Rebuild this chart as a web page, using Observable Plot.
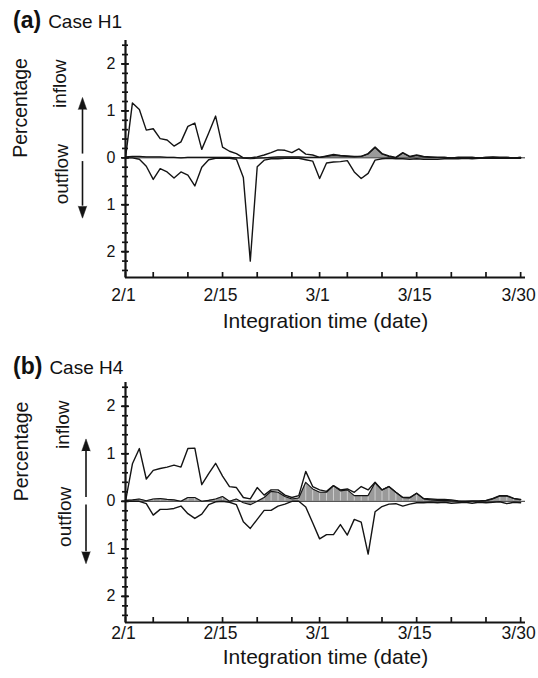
<!DOCTYPE html>
<html>
<head>
<meta charset="utf-8">
<script src="https://cdn.jsdelivr.net/npm/d3@7"></script>
<script src="https://cdn.jsdelivr.net/npm/@observablehq/plot@0.6"></script>
<style>
  body { margin: 0; background: #fff; font-family: "Liberation Sans", Arial, Helvetica, sans-serif; }
  #fig { position: relative; width: 538px; height: 678px; overflow: hidden; background: #fff; }
  .panel { position: absolute; left: 0; }
  .head { position: absolute; left: 13px; white-space: nowrap; color: #111; font-size: 23px; line-height: 23px; }
  .head b { font-size: 23px; margin-right: 7px; }
  .head span { font-size: 19px; }
</style>
</head>
<body>
<div id="fig"></div>
<script>
// Day offsets from 2/1 (daily values, 2/1 .. 3/30)
const days = [0,1,2,3,4,5,6,7,8,9,10,11,12,13,14,15,16,17,18,19,20,21,22,23,24,25,26,27,28,
  29,30,31,32,33,34,35,36,37,38,39,40,41,42,43,44,45,46,47,48,49,50,51,52,53,54,55,56,57];

// Axis ticks and labels
const xTickDays = [0, 4, 9, 14, 19, 24, 28, 32, 37, 42, 47, 52, 57];
const xLabelDays = [0, 14, 28, 42, 57];
const xLabels = ["2/1", "2/15", "3/1", "3/15", "3/30"];
const yMajor = [-2, -1, 0, 1, 2];
const yLabels = ["2", "1", "0", "1", "2"];
const yMinor = [-2.4,-2.2,-2,-1.8,-1.6,-1.4,-1.2,-1,-0.8,-0.6,-0.4,-0.2,0,
  0.2,0.4,0.6,0.8,1,1.2,1.4,1.6,1.8,2,2.2,2.4];

// Case H1 (percentage)
const inflowH1 = [0,1.17,1.03,0.59,0.62,0.41,0.38,0.25,0.34,0.67,0.74,0.18,0.53,0.89,0.23,0.14,0.09,0.0,0.0,0.02,
  0.06,0.11,0.17,0.16,0.11,0.19,0.08,0.06,0.01,0.04,0.07,0.05,0.04,0.03,0.03,0.09,0.23,0.09,0.04,0.01,
  0.11,0.03,0.06,0.03,0.02,0.01,0.01,0.0,0.01,0.01,0.01,0.0,0.01,0.02,0.01,0.01,0.0,0.01];
const outflowH1 = [0,0.0,0.03,0.18,0.46,0.23,0.30,0.43,0.30,0.37,0.60,0.20,0.04,0.01,0.01,0.01,0.03,0.42,2.2,0.19,
  0.05,0.02,0.02,0.01,0.01,0.01,0.04,0.07,0.44,0.11,0.09,0.08,0.06,0.30,0.44,0.33,0.05,0.02,0.01,0.02,
  0.02,0.03,0.02,0.03,0.03,0.03,0.02,0.02,0.02,0.01,0.02,0.01,0.01,0.01,0.01,0.01,0.01,0.01];
const shadedH1 = [0.02,0.03,0.03,0.02,0.02,0.02,0.01,0.01,0.0,0.01,0.01,0.01,0.01,0.01,0.01,0.01,0.0,-0.01,-0.02,-0.01,
  0.0,0.01,0.02,0.02,0.02,0.02,0.01,0.01,0.01,0.03,0.05,0.04,0.03,0.02,0.03,0.08,0.22,0.08,0.03,0.0,
  0.10,0.02,0.05,0.02,0.01,0.01,0.01,0.0,0.01,0.01,0.01,0.0,0.01,0.01,0.01,0.01,0.0,0.01];

// Case H4 (percentage)
const inflowH4 = [0,0.79,1.11,0.47,0.65,0.69,0.72,0.76,0.72,1.11,1.12,0.35,0.58,0.80,0.53,0.31,0.29,0.08,0.05,0.29,
  0.13,0.24,0.24,0.13,0.08,0.12,0.63,0.31,0.24,0.21,0.33,0.24,0.26,0.19,0.31,0.24,0.40,0.24,0.31,0.19,
  0.08,0.08,0.17,0.06,0.05,0.04,0.04,0.03,0.01,0.0,0.01,0.01,0.02,0.06,0.12,0.12,0.06,0.04];
const outflowH4 = [0,0.0,0.0,0.05,0.29,0.17,0.17,0.15,0.10,0.26,0.36,0.27,0.07,0.01,0.0,0.02,0.07,0.43,0.57,0.38,
  0.19,0.19,0.10,0.06,0.0,0.0,0.12,0.45,0.79,0.70,0.70,0.49,0.71,0.38,0.44,1.11,0.22,0.11,0.06,0.05,
  0.10,0.06,0.03,0.03,0.02,0.03,0.02,0.04,0.03,0.02,0.04,0.02,0.03,0.02,0.01,0.05,0.02,0.03];
const shadedH4 = [0.02,0.03,0.05,0.01,0.05,0.06,0.04,0.03,0.0,0.08,0.08,0.0,0.02,0.05,0.10,0.0,0.05,-0.03,-0.07,0.0,
  0.08,0.21,0.19,0.10,0.05,0.07,0.40,0.26,0.19,0.19,0.33,0.22,0.24,0.12,0.12,0.12,0.39,0.24,0.31,0.19,
  0.08,0.07,0.17,0.05,0.03,0.02,0.02,0.01,0.0,-0.01,0.0,0.0,0.01,0.05,0.11,0.11,0.06,0.03];

const ink = "#141414";
const font = '"Liberation Sans", Arial, Helvetica, sans-serif';

function panel(cfg) {
  const rows = days.map((d, i) => ({
    day: d,
    inflow: cfg.inflow[i],
    outflow: -cfg.outflow[i],
    shaded: cfg.shaded[i]
  }));
  const plotH = cfg.plotH;
  const marks = [
    // shaded component
    Plot.areaY(rows, {x: "day", y: "shaded", fill: "#9a9a9a", curve: "linear"}),
  ];
  if (cfg.hatch) {
    marks.push(Plot.ruleX(rows.filter(r => r.shaded > 0.02), {
      x: "day", y1: 0, y2: "shaded", stroke: "#ffffff", strokeWidth: 0.7, strokeOpacity: 0.75
    }));
  }
  marks.push(
    Plot.ruleY([0], {stroke: ink, strokeWidth: 0.9}),
    Plot.line(rows, {x: "day", y: "shaded", stroke: ink, strokeWidth: 1.1}),
    Plot.line(rows, {x: "day", y: "inflow", stroke: ink, strokeWidth: 1.4}),
    Plot.line(rows, {x: "day", y: "outflow", stroke: ink, strokeWidth: 1.4}),

    // axis lines
    Plot.ruleX([0], {x: d => d, stroke: ink, strokeWidth: 2.2}),
    Plot.ruleY([-2.55], {y: d => d, stroke: ink, strokeWidth: 2.2}),

    // tick marks crossing the axes
    Plot.axisY({ticks: yMinor, tickSize: 6, dx: 3, tickFormat: () => "", label: null, stroke: ink, strokeWidth: 1.7}),
    Plot.axisY({ticks: yMajor, tickSize: 8, dx: 4, tickFormat: () => "", label: null, stroke: ink, strokeWidth: 1.7}),
    Plot.axisX({ticks: xTickDays, tickSize: 6, dy: -5, tickFormat: () => "", label: null, stroke: ink, strokeWidth: 1.7}),

    // tick labels
    Plot.text(yMajor, {y: d => d, text: (d, i) => yLabels[i], frameAnchor: "left", dx: -10,
      textAnchor: "end", fontSize: 16, fill: ink}),
    Plot.text(xLabelDays, {x: d => d, text: (d, i) => xLabels[i], frameAnchor: "bottom", dy: cfg.tickDy,
      dx: -2, fontSize: 17.5, fill: ink}),

    // axis titles
    Plot.text(["Integration time (date)"], {frameAnchor: "bottom", dy: cfg.titleDy, fontSize: 21, fill: ink}),
    Plot.text(["Percentage"], {y: () => 0, frameAnchor: "left", dx: cfg.pctDx, rotate: -90, fontSize: 19.5, fill: ink}),
    Plot.text(["inflow"], {y: () => cfg.inY, frameAnchor: "left", dx: cfg.inDx, rotate: -90, fontSize: 19, fill: ink}),
    Plot.text(["outflow"], {y: () => cfg.outY, frameAnchor: "left", dx: cfg.outDx, rotate: -90, fontSize: 19, fill: ink}),

    // direction arrows
    Plot.ruleX([0], {x: d => d, y1: 0.08, y2: cfg.headBase, dx: cfg.arrowDx, stroke: ink, strokeWidth: 1.6}),
    Plot.ruleX([0], {x: d => d, y1: -0.08, y2: -cfg.headBase, dx: cfg.arrowDx, stroke: ink, strokeWidth: 1.6}),
    Plot.vector([0], {x: d => d, y: () => cfg.headBase, dx: cfg.arrowDx, shape: "spike", anchor: "start",
      length: 12, r: 4.2, rotate: 0, fill: ink, stroke: ink, strokeWidth: 0.5}),
    Plot.vector([0], {x: d => d, y: () => -cfg.headBase, dx: cfg.arrowDx, shape: "spike", anchor: "start",
      length: 12, r: 4.2, rotate: 180, fill: ink, stroke: ink, strokeWidth: 0.5})
  );

  return Plot.plot({
    width: 538,
    height: cfg.height,
    marginLeft: 125,
    marginRight: 13,
    marginTop: cfg.marginTop,
    marginBottom: cfg.height - cfg.marginTop - plotH,
    x: {type: "linear", domain: [0, 57.7]},
    y: {type: "linear", domain: [-2.55, 2.5]},
    style: {fontFamily: font, fontSize: "16px", color: ink, background: "#fff", overflow: "visible"},
    marks
  });
}

const fig = document.getElementById("fig");

function addPanel(top, tag, caseName, cfg) {
  const wrap = document.createElement("div");
  wrap.className = "panel";
  wrap.style.top = top + "px";
  wrap.appendChild(panel(cfg));
  fig.appendChild(wrap);
  const head = document.createElement("div");
  head.className = "head";
  head.style.top = (top + cfg.headTop) + "px";
  head.innerHTML = `<b>${tag}</b><span>${caseName}</span>`;
  fig.appendChild(head);
}

addPanel(0, "(a)", "Case H1", {
  inflow: inflowH1, outflow: outflowH1, shaded: shadedH1, hatch: false,
  height: 340, marginTop: 40, plotH: 237, tickDy: 23.5, titleDy: 50.5,
  pctDx: -105, inDx: -66, outDx: -64, inY: 1.06, outY: -0.99,
  arrowDx: -43, headBase: 1.03, headTop: 9
});

addPanel(340, "(b)", "Case H4", {
  inflow: inflowH4, outflow: outflowH4, shaded: shadedH4, hatch: true,
  height: 338, marginTop: 42, plotH: 240, tickDy: 16, titleDy: 41,
  pctDx: -104, inDx: -63, outDx: -61, inY: 1.1, outY: -0.96,
  arrowDx: -39.5, headBase: 1.06, headTop: 14.5
});
</script>
</body>
</html>
